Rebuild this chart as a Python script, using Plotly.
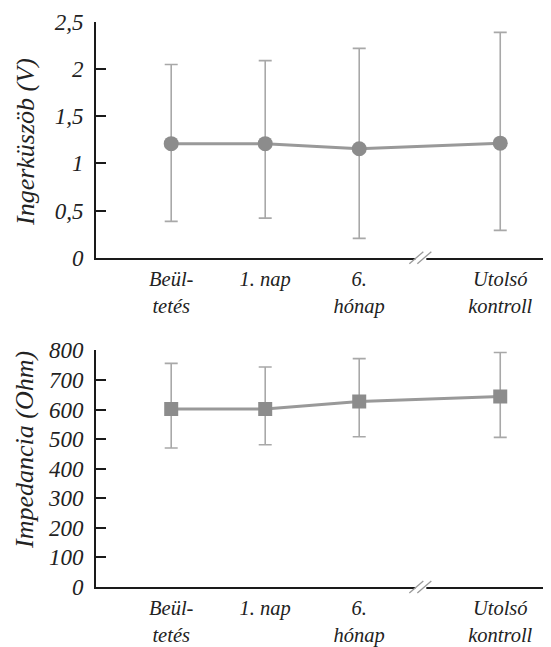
import plotly.graph_objects as go
from plotly.subplots import make_subplots

# ---- data ----
categories = ["Beül-<br>tetés", "1. nap", "6.<br>hónap", "Utolsó<br>kontroll"]
cat_pos = [0, 1, 2, 3.5]          # axis break between "6. hónap" and "Utolsó kontroll"
break_pos = 2.65

thr_mean = [1.21, 1.21, 1.155, 1.215]
thr_upper = [2.05, 2.09, 2.22, 2.39]
thr_lower = [0.385, 0.42, 0.205, 0.29]
thr_ticks = [0, 0.5, 1, 1.5, 2, 2.5]
thr_ticktext = ["0", "0,5", "1", "1,5", "2", "2,5"]

imp_mean = [602, 602, 627, 644]
imp_upper = [756, 744, 772, 793]
imp_lower = [470, 481, 508, 506]
imp_ticks = [0, 100, 200, 300, 400, 500, 600, 700, 800]

# ---- styling ----
FONT = "Liberation Serif"
OFF = 8                      # page body margin
W, H = 551 - OFF, 647 - OFF
ML, MR, MT, MB = 88, 0, 14, 60
XR = [-0.8, 4.04]
TOP_DOM = [0.5828, 1.0]
BOT_DOM = [0.0, 0.4188]
MARK = "#8c8c8c"
LINEC = "#999999"
ERRC = "#a8a8a8"
AX = "#1a1a1a"

fig = make_subplots(rows=2, cols=1, vertical_spacing=0.0)

def err(mean, up, lo):
    return dict(type="data", symmetric=False,
                array=[u - m for u, m in zip(up, mean)],
                arrayminus=[m - l for m, l in zip(mean, lo)],
                color=ERRC, thickness=1.6, width=6.5)

fig.add_trace(go.Scatter(x=cat_pos, y=thr_mean, mode="lines+markers",
                         line=dict(color=LINEC, width=3),
                         marker=dict(symbol="circle", size=15, color=MARK),
                         error_y=err(thr_mean, thr_upper, thr_lower),
                         showlegend=False), row=1, col=1)
fig.add_trace(go.Scatter(x=cat_pos, y=imp_mean, mode="lines+markers",
                         line=dict(color=LINEC, width=3),
                         marker=dict(symbol="square", size=14, color=MARK),
                         error_y=err(imp_mean, imp_upper, imp_lower),
                         showlegend=False), row=2, col=1)

ytickfont = dict(family=FONT, size=23, color="#222222", style="italic")
xtickfont = dict(family=FONT, size=20.5, color="#222222", style="italic")

for r in (1, 2):
    fig.update_xaxes(row=r, col=1, range=XR, tickvals=cat_pos, ticktext=categories,
                     showline=True, linecolor=AX, linewidth=1.6, ticks="",
                     showgrid=False, zeroline=False, tickfont=xtickfont,
                     ticklabelstandoff=2, automargin=False, domain=[0, 1])
fig.update_yaxes(row=1, col=1, range=[0, 2.5], tickvals=thr_ticks, ticktext=thr_ticktext,
                 domain=TOP_DOM)
fig.update_yaxes(row=2, col=1, range=[0, 800], tickvals=imp_ticks, domain=BOT_DOM)
for r in (1, 2):
    fig.update_yaxes(row=r, col=1, showline=True, linecolor=AX, linewidth=1.6,
                     ticks="inside", ticklen=10, tickwidth=1.5, tickcolor=AX,
                     showgrid=False, zeroline=False, tickfont=ytickfont,
                     ticklabelstandoff=6, automargin=False)

ph = H - MT - MB
pw = W - ML - MR

def px_to_paper_y(py):
    return (H - MB - (py - OFF)) / ph

def px_to_paper_x(px):
    return (px - OFF - ML) / pw

# y-axis titles as rotated annotations
titlefont = dict(family=FONT, size=26, color="#222222", style="italic")
fig.add_annotation(text="Ingerküszöb (V)", xref="paper", yref="paper",
                   x=px_to_paper_x(25), y=px_to_paper_y(142), textangle=-90,
                   xanchor="center", yanchor="middle",
                   showarrow=False, font=titlefont)
fig.add_annotation(text="Impedancia (Ohm)", xref="paper", yref="paper",
                   x=px_to_paper_x(25), y=px_to_paper_y(450), textangle=-90,
                   xanchor="center", yanchor="middle",
                   showarrow=False, font=titlefont)

# axis break marks
bx = pw * (break_pos - XR[0]) / (XR[1] - XR[0])
for dom in (TOP_DOM, BOT_DOM):
    y0 = dom[0]
    dy = 1.0 / ph
    dx = 1.0 / pw
    bxp = bx / pw
    fig.add_shape(type="rect", xref="paper", yref="paper",
                  x0=bxp - 5 * dx, x1=bxp + 6 * dx, y0=y0 - 3 * dy, y1=y0 + 3 * dy,
                  fillcolor="white", line=dict(width=0), layer="above")
    for off in (-4, 4):
        fig.add_shape(type="line", xref="paper", yref="paper",
                      x0=bxp + (off - 7) * dx, y0=y0 - 6 * dy,
                      x1=bxp + (off + 7) * dx, y1=y0 + 6 * dy,
                      line=dict(color="#9a9a9a", width=1.3), layer="above")

fig.update_layout(width=W, height=H, margin=dict(l=ML, r=MR, t=MT, b=MB, autoexpand=False),
                  plot_bgcolor="white", paper_bgcolor="white")

fig.write_html("out.html")
